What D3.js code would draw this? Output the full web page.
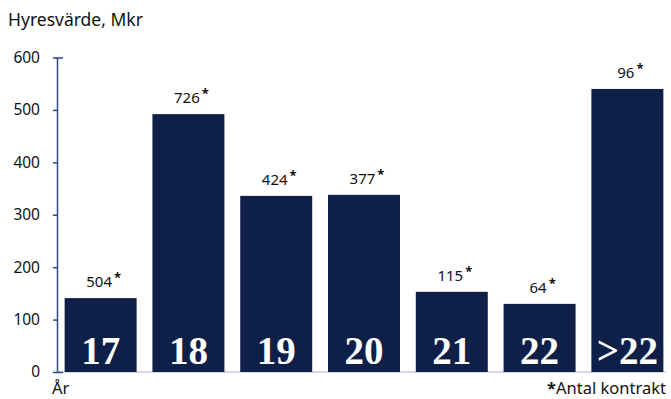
<!DOCTYPE html>
<html>
<head>
<meta charset="utf-8">
<script src="https://cdn.jsdelivr.net/npm/d3@7"></script>
<style>
  body { margin: 0; background: #fff; }
  text { font-family: "Noto Sans", "Open Sans", sans-serif; fill: #111; }
</style>
</head>
<body>
<div id="chart"></div>
<script>
// data
const years = ["17", "18", "19", "20", "21", "22", ">22"];
const values = [141, 492, 336, 338, 153, 130, 540];
const contracts = ["504", "726", "424", "377", "115", "64", "96"];
const yTicks = [0, 100, 200, 300, 400, 500, 600];

const W = 671, H = 399;
const margin = { top: 57.5, right: 0, bottom: 27, left: 57 };
const navy = "#0f2048";

const svg = d3.select("#chart").append("svg")
  .attr("width", W)
  .attr("height", H);

const x = d3.scaleBand()
  .domain(years)
  .range([margin.left, W - margin.right])
  .paddingInner(0.18)
  .paddingOuter(0.087);

const y = d3.scaleLinear()
  .domain([0, 600])
  .range([H - margin.bottom, margin.top]);

// title
svg.append("text")
  .attr("x", 8).attr("y", 26)
  .attr("font-size", 17.5)
  .text("Hyresvärde, Mkr");

// baseline
svg.append("line")
  .attr("x1", margin.left).attr("x2", 666)
  .attr("y1", y(0)).attr("y2", y(0))
  .attr("stroke", "#aab4c8").attr("stroke-width", 1.2);

// bars
svg.selectAll("rect.bar")
  .data(years)
  .join("rect")
  .attr("class", "bar")
  .attr("x", d => x(d))
  .attr("y", (d, i) => y(values[i]))
  .attr("width", x.bandwidth())
  .attr("height", (d, i) => y(0) - y(values[i]))
  .attr("fill", navy);

// y axis
const yAxis = svg.append("g")
  .attr("transform", "translate(" + margin.left + ",0)")
  .call(d3.axisLeft(y).tickValues(yTicks).tickSize(4).tickSizeOuter(-6).tickPadding(13));
yAxis.selectAll("path, line").attr("stroke", "#2f4a80").attr("stroke-width", 1.5);
yAxis.selectAll("text")
  .attr("font-size", 15.5)
  .attr("font-family", "Noto Sans, sans-serif")
  .attr("fill", "#111");

// year labels inside bars
svg.selectAll("text.year")
  .data(years)
  .join("text")
  .attr("class", "year")
  .attr("x", d => x(d) + x.bandwidth() / 2)
  .attr("y", y(0) - 8)
  .attr("text-anchor", "middle")
  .style("font-family", "'Liberation Serif', 'DejaVu Serif', serif")
  .style("font-weight", "bold")
  .style("font-size", "39px")
  .style("fill", "#fff")
  .text(d => d);

// contract counts above bars
const lab = svg.selectAll("text.count")
  .data(years)
  .join("text")
  .attr("class", "count")
  .attr("x", d => x(d) + x.bandwidth() / 2 + 3)
  .attr("y", (d, i) => y(values[i]) - 11)
  .attr("text-anchor", "middle")
  .attr("font-size", 15);
lab.append("tspan").text((d, i) => contracts[i]);
lab.append("tspan").attr("dx", 2).attr("dy", -5).attr("font-size", 13).attr("font-weight", "bold").text("*");

// footer
svg.append("text")
  .attr("x", 52).attr("y", 394)
  .attr("font-size", 16.5)
  .text("År");

const foot = svg.append("text")
  .attr("x", 666).attr("y", 394)
  .attr("text-anchor", "end")
  .attr("font-size", 16.5);
foot.append("tspan").attr("font-weight", "bold").text("*");
foot.append("tspan").text("Antal kontrakt");
</script>
</body>
</html>
